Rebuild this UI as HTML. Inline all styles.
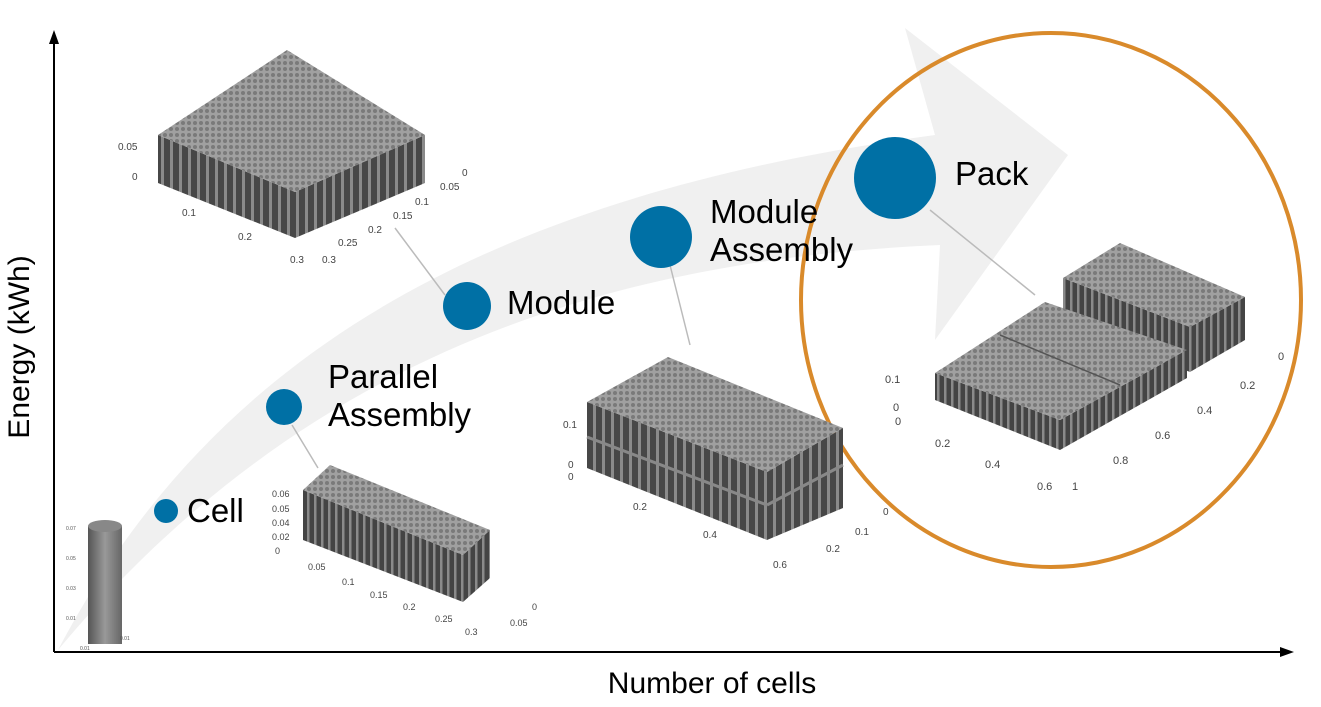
<!DOCTYPE html>
<html><head><meta charset="utf-8"><style>
html,body{margin:0;padding:0;background:#fff;}
svg{display:block;font-family:"Liberation Sans",sans-serif;}
</style></head><body>
<svg width="1321" height="707" viewBox="0 0 1321 707" xmlns="http://www.w3.org/2000/svg">
<defs>
<pattern id="vs" width="7" height="10" patternUnits="userSpaceOnUse">
<rect width="7" height="10" fill="#8a8a8a"/><rect x="1.5" width="4.5" height="10" fill="#444"/></pattern>
<pattern id="vs2" width="9" height="10" patternUnits="userSpaceOnUse">
<rect width="9" height="10" fill="#8a8a8a"/><rect x="2" width="6" height="10" fill="#474747"/></pattern>
<pattern id="top" width="6" height="6" patternUnits="userSpaceOnUse">
<rect width="6" height="6" fill="#a0a0a0"/><circle cx="3" cy="3" r="2" fill="#7a7a7a"/></pattern>
<linearGradient id="cyl" x1="0" x2="1"><stop offset="0" stop-color="#555"/><stop offset="0.5" stop-color="#999"/><stop offset="1" stop-color="#666"/></linearGradient>
</defs>
<path d="M58,650 C200,380 450,200 935,135 L905,28 L1068,155 L935,340 L940,245 C600,260 300,360 58,650 Z" fill="#f0f0f0"/>
<ellipse cx="1051" cy="300" rx="250" ry="267" fill="none" stroke="#d98a2b" stroke-width="4"/>
<line x1="54" y1="652" x2="54" y2="40" stroke="#000" stroke-width="2"/>
<polygon points="54,30 49,44 59,44" fill="#000"/>
<line x1="54" y1="652" x2="1284" y2="652" stroke="#000" stroke-width="2"/>
<polygon points="1294,652 1280,647 1280,657" fill="#000"/>
<text x="0" y="0" font-size="30" transform="translate(29,347) rotate(-90)" text-anchor="middle">Energy (kWh)</text>
<text x="712" y="693" font-size="30" text-anchor="middle">Number of cells</text>
<g stroke="#bbb" stroke-width="1.5">
<line x1="292" y1="425" x2="318" y2="468"/>
<line x1="445" y1="295" x2="395" y2="228"/>
<line x1="670" y1="265" x2="690" y2="345"/>
<line x1="930" y1="210" x2="1035" y2="295"/>
</g>
<rect x="88" y="526" width="34" height="118" fill="url(#cyl)"/>
<ellipse cx="105" cy="526" rx="17" ry="6" fill="#888"/>
<g font-size="5" fill="#555"><text x="66" y="530">0.07</text><text x="66" y="560">0.05</text><text x="66" y="590">0.03</text><text x="66" y="620">0.01</text><text x="80" y="650">0.01</text><text x="120" y="640">0.01</text></g>
<polygon points="303,490 463,555 463,602 303,540" fill="url(#vs)"/>
<polygon points="463,555 490,530 490,578 463,602" fill="url(#vs)"/>
<polygon points="303,490 330,465 490,530 463,555" fill="url(#top)"/>
<g font-size="9" fill="#444"><text x="272" y="497">0.06</text><text x="272" y="512">0.05</text><text x="272" y="526">0.04</text><text x="272" y="540">0.02</text><text x="275" y="554">0</text><text x="308" y="570">0.05</text><text x="342" y="585">0.1</text><text x="370" y="598">0.15</text><text x="403" y="610">0.2</text><text x="435" y="622">0.25</text><text x="465" y="635">0.3</text><text x="532" y="610">0</text><text x="510" y="626">0.05</text></g>
<polygon points="158,135 295,192 295,238 158,183" fill="url(#vs2)"/>
<polygon points="295,192 425,135 425,183 295,238" fill="url(#vs2)"/>
<polygon points="158,135 287,50 425,135 295,192" fill="url(#top)"/>
<g font-size="10" fill="#444"><text x="118" y="150">0.05</text><text x="132" y="180">0</text><text x="182" y="216">0.1</text><text x="238" y="240">0.2</text><text x="290" y="263">0.3</text><text x="322" y="263">0.3</text><text x="338" y="246">0.25</text><text x="368" y="233">0.2</text><text x="393" y="219">0.15</text><text x="415" y="205">0.1</text><text x="440" y="190">0.05</text><text x="462" y="176">0</text></g>
<polygon points="587,402 767,472 767,540 587,468" fill="url(#vs2)"/>
<polygon points="767,472 843,428 843,508 767,540" fill="url(#vs2)"/>
<line x1="587" y1="437" x2="767" y2="505" stroke="#888" stroke-width="3"/>
<line x1="767" y1="505" x2="843" y2="465" stroke="#888" stroke-width="3"/>
<polygon points="587,402 668,357 843,428 767,472" fill="url(#top)"/>
<g font-size="10" fill="#444"><text x="563" y="428">0.1</text><text x="568" y="468">0</text><text x="568" y="480">0</text><text x="633" y="510">0.2</text><text x="703" y="538">0.4</text><text x="773" y="568">0.6</text><text x="826" y="552">0.2</text><text x="855" y="535">0.1</text><text x="883" y="515">0</text></g>
<polygon points="1063,278 1190,327 1190,372 1063,322" fill="url(#vs)"/>
<polygon points="1190,327 1245,297 1245,340 1190,372" fill="url(#vs)"/>
<polygon points="1063,278 1120,243 1245,297 1190,327" fill="url(#top)"/>
<polygon points="935,373 1060,420 1060,450 935,400" fill="url(#vs)"/>
<polygon points="1060,420 1187,350 1187,378 1060,450" fill="url(#vs)"/>
<polygon points="935,373 1045,302 1187,350 1060,420" fill="url(#top)"/>
<line x1="1000" y1="335" x2="1120" y2="385" stroke="#555" stroke-width="1.5"/>
<g font-size="11" fill="#444"><text x="885" y="383">0.1</text><text x="893" y="411">0</text><text x="895" y="425">0</text><text x="935" y="447">0.2</text><text x="985" y="468">0.4</text><text x="1037" y="490">0.6</text><text x="1072" y="490">1</text><text x="1113" y="464">0.8</text><text x="1155" y="439">0.6</text><text x="1197" y="414">0.4</text><text x="1240" y="389">0.2</text><text x="1278" y="360">0</text></g>
<g fill="#0070a5">
<circle cx="166" cy="511" r="12"/>
<circle cx="284" cy="407" r="18"/>
<circle cx="467" cy="306" r="24"/>
<circle cx="661" cy="237" r="31"/>
<circle cx="895" cy="178" r="41"/>
</g>
<g font-size="33" fill="#000">
<text x="187" y="522">Cell</text>
<text x="328" y="388">Parallel</text><text x="328" y="426">Assembly</text>
<text x="507" y="314">Module</text>
<text x="710" y="223">Module</text><text x="710" y="261">Assembly</text>
<text x="955" y="185">Pack</text>
</g>
</svg>
</body></html>
